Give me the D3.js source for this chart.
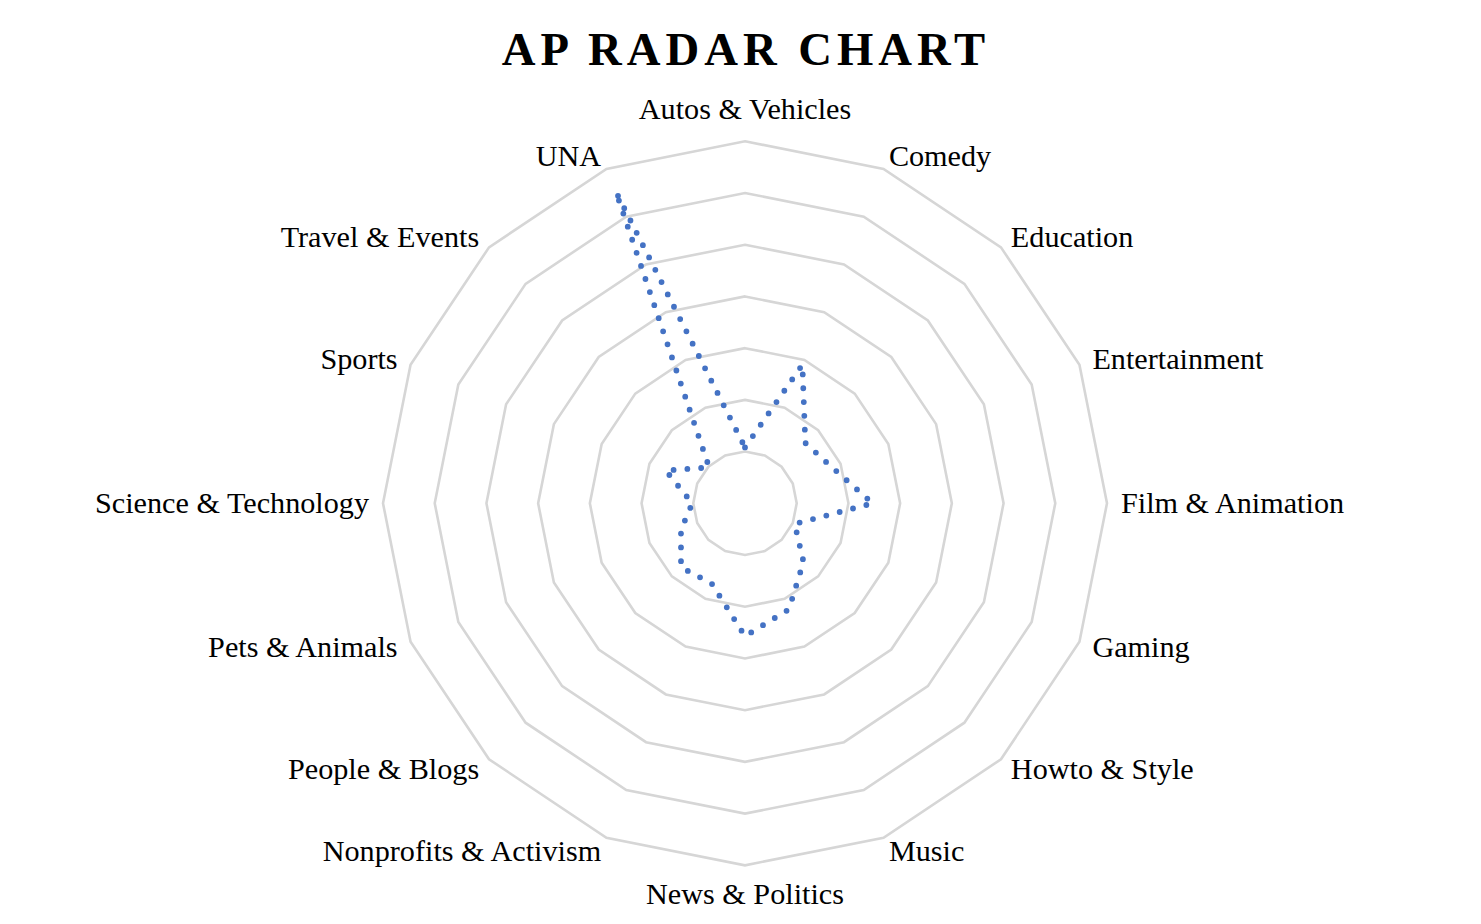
<!DOCTYPE html>
<html>
<head>
<meta charset="utf-8">
<script src="https://cdn.jsdelivr.net/npm/d3@7"></script>
<style>
  html, body { margin: 0; padding: 0; background: #ffffff; }
  svg { display: block; }
  text { font-family: "Times New Roman", "Liberation Serif", serif; fill: #000; }
</style>
</head>
<body>
<svg id="chart" width="1481" height="924"></svg>
<script>
// ---- data ----
const categories = [
  "Autos & Vehicles", "Comedy", "Education", "Entertainment", "Film & Animation",
  "Gaming", "Howto & Style", "Music", "News & Politics", "Nonprofits & Activism",
  "People & Blogs", "Pets & Animals", "Science & Technology", "Sports",
  "Travel & Events", "UNA"
];
const seriesValues = [
  1.08, 2.9, 1.65, 1.82, 2.47,
  1.04, 1.6, 2.22, 2.57, 1.68,
  1.75, 1.34, 1.02, 1.66,
  0.98, 6.52
];
const gridLevels = [1, 2, 3, 4, 5, 6, 7];
const chartTitle = "AP RADAR CHART";

// ---- layout ----
const W = 1481, H = 924;
const cx = 745, cy = 503.3, R = 362;
const svg = d3.select("#chart");

const rScale = d3.scaleLinear().domain([0, d3.max(gridLevels)]).range([0, R]);
const aScale = d3.scaleLinear().domain([0, categories.length]).range([0, 2 * Math.PI]);

const g = svg.append("g").attr("transform", `translate(${cx},${cy})`);

// grid rings
const ringLine = d3.lineRadial()
  .angle((d, i) => aScale(i))
  .radius(d => rScale(d))
  .curve(d3.curveLinearClosed);

g.selectAll("path.ring")
  .data(gridLevels)
  .join("path")
  .attr("class", "ring")
  .attr("d", lvl => ringLine(categories.map(() => lvl)))
  .attr("fill", "none")
  .attr("stroke", "#d6d6d6")
  .attr("stroke-width", 2.6)
  .attr("stroke-linejoin", "miter");

// series
const seriesLine = d3.lineRadial()
  .angle((d, i) => aScale(i))
  .radius(d => rScale(d))
  .curve(d3.curveLinearClosed);

g.append("path")
  .attr("d", seriesLine(seriesValues))
  .attr("fill", "none")
  .attr("stroke", "#4472C4")
  .attr("stroke-width", 5.8)
  .attr("stroke-linecap", "round")
  .attr("stroke-dasharray", "0 13.8");

// category labels
const fs = 30.2;
const labelOff = 14;
g.selectAll("text.cat")
  .data(categories)
  .join("text")
  .attr("class", "cat")
  .attr("font-size", fs)
  .each(function (d, i) {
    const a = aScale(i);
    const sx = Math.sin(a), sy = -Math.cos(a);
    const t = d3.select(this).text(d);
    if (Math.abs(sx) < 1e-6) {
      t.attr("text-anchor", "middle").attr("x", 0);
      if (sy < 0) t.attr("y", -(R + 22));
      else t.attr("y", R + 39);
    } else {
      const px = (R + labelOff) * sx;
      const py = (R + labelOff) * sy;
      t.attr("text-anchor", sx > 0 ? "start" : "end")
       .attr("x", px)
       .attr("y", py + 10);
    }
  });

// title
svg.append("text")
  .attr("x", 743.5 + 2.5)
  .attr("y", 65)
  .attr("text-anchor", "middle")
  .attr("font-size", 46.7)
  .attr("font-weight", "bold")
  .attr("letter-spacing", 5.0)
  .text(chartTitle);
</script>
</body>
</html>
